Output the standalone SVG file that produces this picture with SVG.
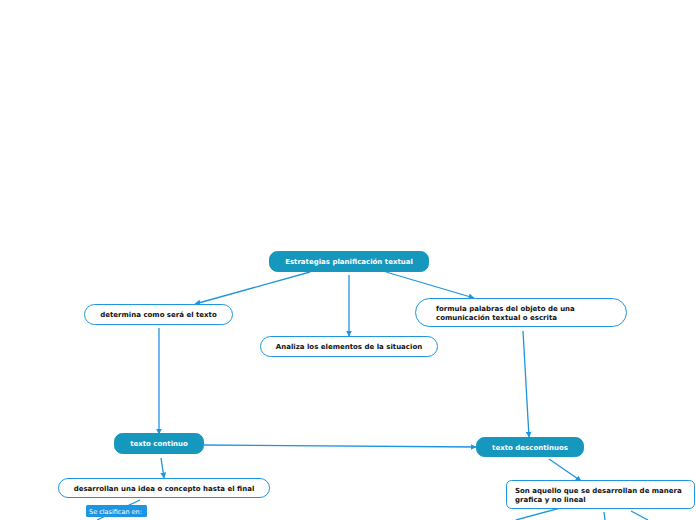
<svg xmlns="http://www.w3.org/2000/svg" width="696" height="520" viewBox="0 0 696 520">
<defs>
<style>
.main rect{fill:#1597be;stroke:#1597be;stroke-width:1}
.main text{fill:#ffffff;font-family:"DejaVu Sans",sans-serif;font-size:7px;font-weight:bold;text-anchor:middle}
.sub rect{fill:#ffffff;stroke:#1e95e0;stroke-width:1}
.sub text{fill:#111111;font-family:"DejaVu Sans",sans-serif;font-size:7px;font-weight:bold}
.c{stroke:#1e95e0;stroke-width:1.3;fill:none}
.lbl rect{fill:#1e95e0}
.lbl text{fill:#ffffff;font-family:"DejaVu Sans",sans-serif;font-size:6.5px}
</style>
<marker id="a" viewBox="0 0 10 10" refX="9" refY="5" markerWidth="6" markerHeight="6" orient="auto" markerUnits="userSpaceOnUse">
<path d="M0,0 L10,5 L0,10 z" fill="#1e95e0"/>
</marker>
</defs>
<rect width="696" height="520" fill="#ffffff"/>
<g id="connectors">
<line class="c" x1="310" y1="272" x2="195" y2="304" marker-end="url(#a)"/>
<line class="c" x1="349" y1="275" x2="349" y2="336" marker-end="url(#a)"/>
<line class="c" x1="386" y1="272" x2="474" y2="298" marker-end="url(#a)"/>
<line class="c" x1="159" y1="328" x2="159" y2="434" marker-end="url(#a)"/>
<line class="c" x1="523" y1="331" x2="529" y2="437" marker-end="url(#a)"/>
<line class="c" x1="204" y1="445" x2="476" y2="447" marker-end="url(#a)"/>
<line class="c" x1="161" y1="458" x2="164" y2="478" marker-end="url(#a)"/>
<line class="c" x1="549" y1="459" x2="581" y2="481" marker-end="url(#a)"/>
<line class="c" x1="140" y1="500" x2="97" y2="520"/>
<line class="c" x1="560" y1="508" x2="516" y2="520"/>
<line class="c" x1="604" y1="512" x2="605" y2="520"/>
<line class="c" x1="631" y1="511" x2="648" y2="520"/>
</g>
<g id="n-root" class="main">
<rect x="269.5" y="251.5" width="159" height="20" rx="8"/>
<text x="349" y="264">Estrategias planificación textual</text>
</g>
<g id="n-determina" class="sub">
<rect x="84.5" y="304.5" width="148" height="20" rx="10"/>
<text x="158.5" y="317" text-anchor="middle">determina como será el texto</text>
</g>
<g id="n-analiza" class="sub">
<rect x="260.5" y="336.5" width="177" height="20" rx="10"/>
<text x="349" y="349" text-anchor="middle">Analiza los elementos de la situacion</text>
</g>
<g id="n-formula" class="sub">
<rect x="415.5" y="298.5" width="211" height="28" rx="14"/>
<text x="436" y="311">formula palabras del objeto de una</text>
<text x="436" y="320">comunicación textual o escrita</text>
</g>
<g id="n-continuo" class="main">
<rect x="114.5" y="433.5" width="89" height="20" rx="8"/>
<text x="159" y="446">texto continuo</text>
</g>
<g id="n-descontinuos" class="main">
<rect x="476.5" y="437.5" width="107" height="19" rx="8"/>
<text x="530" y="449.5">texto descontinuos</text>
</g>
<g id="n-desarrollan" class="sub">
<rect x="58.5" y="478.5" width="211" height="19" rx="9.5"/>
<text x="164" y="490.5" text-anchor="middle">desarrollan una idea o concepto hasta el final</text>
</g>
<g id="n-son" class="sub">
<rect x="506.5" y="480.5" width="188" height="28" rx="5"/>
<text x="515" y="493">Son aquello que se desarrollan de manera</text>
<text x="515" y="502">grafica y no lineal</text>
</g>
<g id="l-clasifican" class="lbl">
<rect x="86" y="505" width="61" height="12" rx="1.5"/>
<text x="89" y="514">Se clasifican en:</text>
</g>
</svg>
